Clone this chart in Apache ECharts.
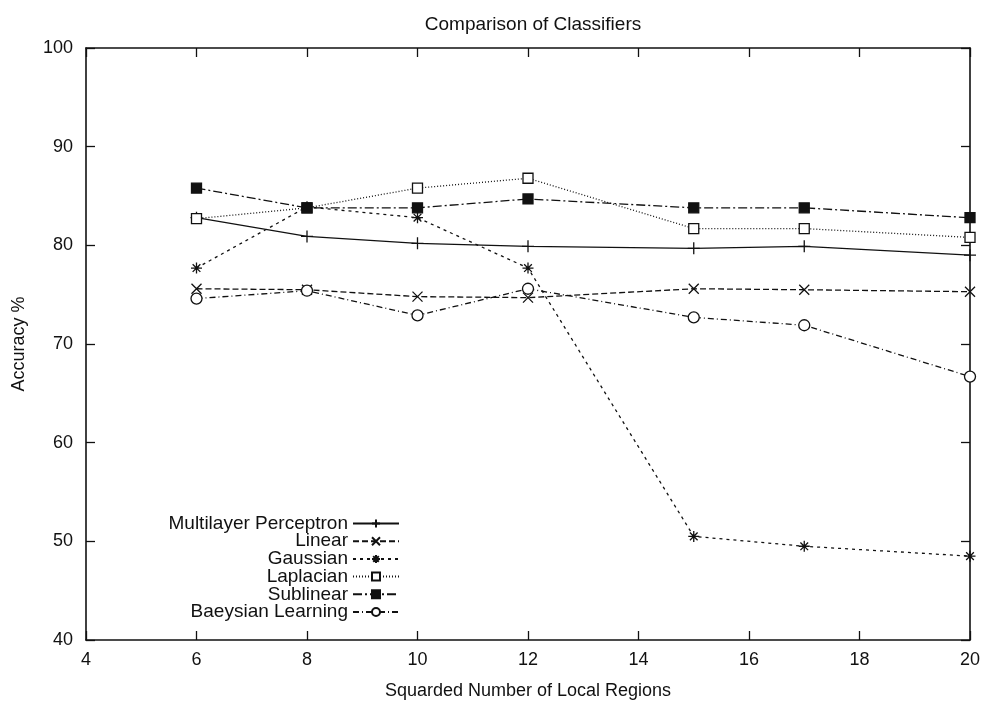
<!DOCTYPE html>
<html>
<head>
<meta charset="utf-8">
<script src="https://cdn.jsdelivr.net/npm/echarts@6/dist/echarts.min.js"></script>
<style>
  html, body { margin: 0; padding: 0; background: #fff; }
  #chart { width: 987px; height: 703px; }
</style>
</head>
<body>
<div id="chart"></div>
<script>
// x positions (squared number of local regions)
const regions = [6, 8, 10, 12, 15, 17, 20]

const seriesNames = ['Multilayer Perceptron', 'Linear', 'Gaussian', 'Laplacian', 'Sublinear', 'Baeysian Learning']

// accuracy %
const mlp = [82.8, 80.9, 80.2, 79.9, 79.7, 79.9, 79.0]
const linear = [75.6, 75.5, 74.8, 74.7, 75.6, 75.5, 75.3]
const gaussian = [77.7, 83.9, 82.8, 77.7, 50.5, 49.5, 48.5]
const laplacian = [82.7, 83.8, 85.8, 86.8, 81.7, 81.7, 80.8]
const sublinear = [85.8, 83.8, 83.8, 84.7, 83.8, 83.8, 82.8]
const baeysian = [74.6, 75.4, 72.9, 75.6, 72.7, 71.9, 66.7]

const ink = '#111'
const font = 'Liberation Sans'

const sym = {
  plus: 'path://M5,0L5,10M0,5L10,5',
  cross: 'path://M0,0L10,10M10,0L0,10',
  star: 'path://M5,0L5,10M0,5L10,5M1.5,1.5L8.5,8.5M8.5,1.5L1.5,8.5'
}

function pts (vals) {
  return regions.map((x, i) => [x, vals[i]])
}

function makeSeries (name, vals, symbol, size, fill, dash) {
  return {
    name: name,
    type: 'line',
    data: pts(vals),
    symbol: symbol,
    symbolSize: size,
    symbolKeepAspect: true,
    showAllSymbol: true,
    lineStyle: { color: ink, width: 1.3, type: dash },
    itemStyle: { color: fill, borderColor: ink, borderWidth: 1.3 },
    emphasis: { disabled: true },
    z: 3
  }
}

// gnuplot style key: one legend per row, right-anchored so the text lines up on the right
const legends = seriesNames.map((n, i) => ({
  data: [n],
  right: 587,
  top: 514 + i * 17.7,
  align: 'right',
  itemWidth: 46,
  itemHeight: 10,
  itemGap: 0,
  padding: 0,
  selectedMode: false,
  textStyle: { fontSize: 19, color: ink, fontFamily: font }
}))

const chart = echarts.init(document.getElementById('chart'))

const xBase = {
  type: 'value',
  min: 4,
  max: 20,
  interval: 2,
  axisLine: { show: true, onZero: false, lineStyle: { color: ink, width: 1.6 } },
  axisTick: { show: true, inside: true, length: 9, lineStyle: { color: ink, width: 1.3 } },
  splitLine: { show: false }
}
const yBase = {
  type: 'value',
  min: 40,
  max: 100,
  interval: 10,
  axisLine: { show: true, onZero: false, lineStyle: { color: ink, width: 1.6 } },
  axisTick: { show: true, inside: true, length: 9, lineStyle: { color: ink, width: 1.3 } },
  splitLine: { show: false }
}

chart.setOption({
  backgroundColor: '#fff',
  animation: false,
  title: {
    text: 'Comparison of Classifiers',
    left: 528,
    top: 10,
    textAlign: 'center',
    textStyle: { fontSize: 19, fontWeight: 'normal', color: ink, fontFamily: font }
  },
  legend: legends,
  grid: { left: 86, right: 17, top: 48, bottom: 63, outerBoundsMode: 'none' },
  xAxis: [
    Object.assign({}, xBase, {
      position: 'bottom',
      name: 'Squarded Number of Local Regions',
      nameLocation: 'middle',
      nameGap: 42,
      nameTextStyle: { fontSize: 18, color: ink, fontFamily: font },
      axisLabel: { fontSize: 18, color: ink, fontFamily: font, margin: 11 }
    }),
    Object.assign({}, xBase, { position: 'top', axisLabel: { show: false } })
  ],
  yAxis: [
    Object.assign({}, yBase, {
      position: 'left',
      name: 'Accuracy %',
      nameLocation: 'middle',
      nameGap: 58,
      nameRotate: 90,
      nameTextStyle: { fontSize: 18, color: ink, fontFamily: font },
      axisLabel: { fontSize: 18, color: ink, fontFamily: font, margin: 13 }
    }),
    Object.assign({}, yBase, { position: 'right', axisLabel: { show: false } })
  ],
  series: [
    makeSeries(seriesNames[0], mlp, sym.plus, 12, ink, 'solid'),
    makeSeries(seriesNames[1], linear, sym.cross, 10, ink, [6, 3]),
    makeSeries(seriesNames[2], gaussian, sym.star, 11, ink, [3, 4]),
    makeSeries(seriesNames[3], laplacian, 'rect', 10, '#fff', [1, 2]),
    makeSeries(seriesNames[4], sublinear, 'rect', 10, ink, [9, 3, 2, 3]),
    makeSeries(seriesNames[5], baeysian, 'circle', 11, '#fff', [6, 3, 1, 3])
  ]
})
</script>
</body>
</html>
